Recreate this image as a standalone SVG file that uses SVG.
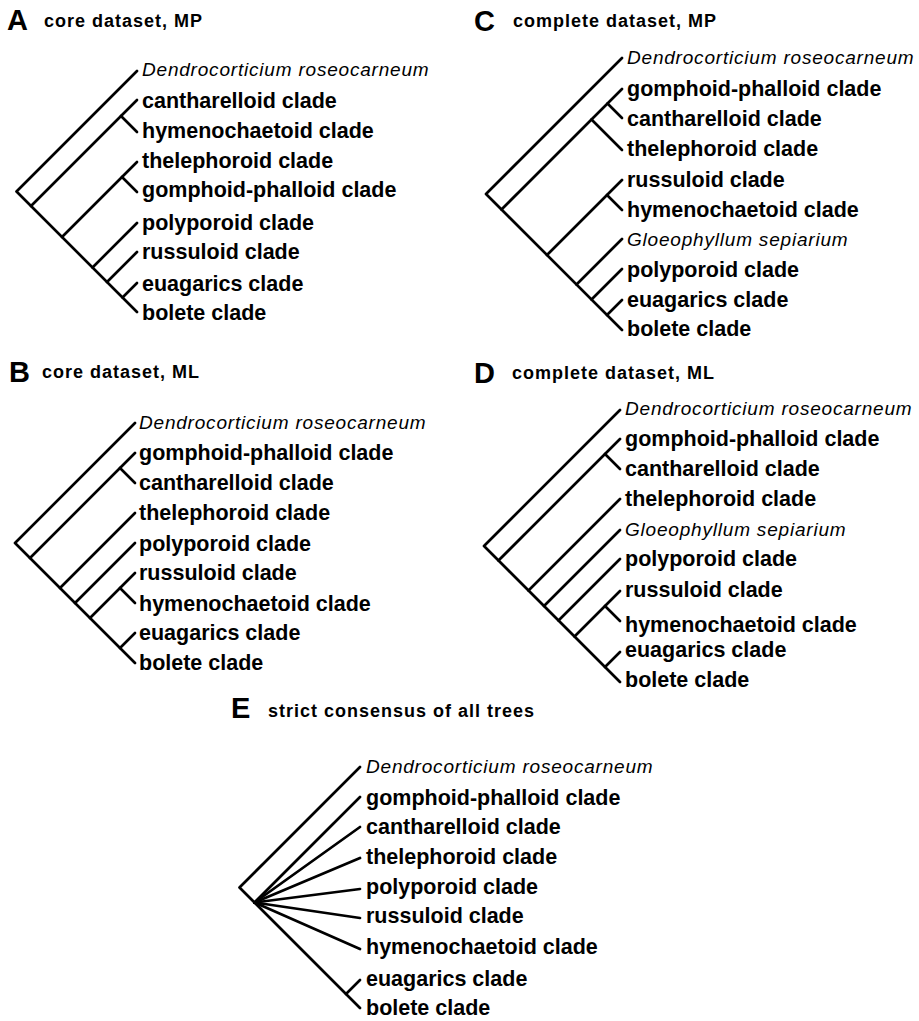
<svg xmlns="http://www.w3.org/2000/svg" width="919" height="1021" viewBox="0 0 919 1021">
<style>
text{font-family:"Liberation Sans",Arial,Helvetica,sans-serif;fill:#000}
.b{font-weight:bold;font-size:21.5px}
.i{font-style:italic;font-size:19px;letter-spacing:0.8px}
.h{font-weight:bold;font-size:18px;letter-spacing:1px}
.L{font-weight:bold;font-size:29px}
.e path{stroke:#000;stroke-width:2.7;fill:none;stroke-linecap:round;stroke-linejoin:round}
</style>
<rect width="919" height="1021" fill="#fff"/>

<!-- Panel A -->
<g id="panelA">
<g id="A-title"><text class="L" x="7" y="30">A</text><text class="h" x="44" y="27">core dataset, MP</text></g>
<g class="e" id="A-connectors">
<path d="M137,71 L16.5,191.5 L137,312"/>
<path d="M31,206 L137,100"/>
<path d="M121,116 L137,132"/>
<path d="M62,237 L137,162"/>
<path d="M122,177 L137,192"/>
<path d="M92.5,267.5 L137,223"/>
<path d="M107,282 L137,252"/>
<path d="M122.5,297.5 L137,283"/>
</g>
<g id="A-dendro"><text class="i" x="142" y="76">Dendrocorticium roseocarneum</text></g>
<g id="A-canth"><text class="b" x="142" y="108">cantharelloid clade</text></g>
<g id="A-hymeno"><text class="b" x="142" y="138">hymenochaetoid clade</text></g>
<g id="A-thele"><text class="b" x="142" y="168">thelephoroid clade</text></g>
<g id="A-gomph"><text class="b" x="142" y="197">gomphoid-phalloid clade</text></g>
<g id="A-poly"><text class="b" x="142" y="230">polyporoid clade</text></g>
<g id="A-russ"><text class="b" x="142" y="259">russuloid clade</text></g>
<g id="A-eua"><text class="b" x="142" y="291">euagarics clade</text></g>
<g id="A-bolete"><text class="b" x="142" y="320">bolete clade</text></g>
</g>

<!-- Panel B -->
<g id="panelB">
<g id="B-title"><text class="L" x="9" y="382">B</text><text class="h" x="42" y="378">core dataset, ML</text></g>
<g class="e" id="B-connectors">
<path d="M135,423 L15,543 L135,663"/>
<path d="M30,558 L135,453"/>
<path d="M120,468 L135,483"/>
<path d="M60,588 L135,513"/>
<path d="M75,603 L135,543"/>
<path d="M90,618 L135,573"/>
<path d="M120,588 L135,603"/>
<path d="M120,648 L135,633"/>
</g>
<g id="B-dendro"><text class="i" x="139" y="429">Dendrocorticium roseocarneum</text></g>
<g id="B-gomph"><text class="b" x="139" y="460">gomphoid-phalloid clade</text></g>
<g id="B-canth"><text class="b" x="139" y="490">cantharelloid clade</text></g>
<g id="B-thele"><text class="b" x="139" y="520">thelephoroid clade</text></g>
<g id="B-poly"><text class="b" x="139" y="550.5">polyporoid clade</text></g>
<g id="B-russ"><text class="b" x="139" y="580">russuloid clade</text></g>
<g id="B-hymeno"><text class="b" x="139" y="610.5">hymenochaetoid clade</text></g>
<g id="B-eua"><text class="b" x="139" y="640">euagarics clade</text></g>
<g id="B-bolete"><text class="b" x="139" y="670">bolete clade</text></g>
</g>

<!-- Panel C -->
<g id="panelC">
<g id="C-title"><text class="L" x="474" y="30.5">C</text><text class="h" x="513" y="27">complete dataset, MP</text></g>
<g class="e" id="C-connectors">
<path d="M622,58 L486,194 L622,330"/>
<path d="M501.5,209.5 L622,89"/>
<path d="M591.5,119.5 L622,150"/>
<path d="M607.5,103.5 L622,118"/>
<path d="M547,255 L622,180"/>
<path d="M607,195 L622,210"/>
<path d="M576.5,284.5 L622,239"/>
<path d="M591.5,299.5 L622,269"/>
<path d="M607,315 L622,300"/>
</g>
<g id="C-dendro"><text class="i" x="627" y="64">Dendrocorticium roseocarneum</text></g>
<g id="C-gomph"><text class="b" x="627" y="96">gomphoid-phalloid clade</text></g>
<g id="C-canth"><text class="b" x="627" y="126">cantharelloid clade</text></g>
<g id="C-thele"><text class="b" x="627" y="156">thelephoroid clade</text></g>
<g id="C-russ"><text class="b" x="627" y="186.5">russuloid clade</text></g>
<g id="C-hymeno"><text class="b" x="627" y="217">hymenochaetoid clade</text></g>
<g id="C-gloeo"><text class="i" x="627" y="246">Gloeophyllum sepiarium</text></g>
<g id="C-poly"><text class="b" x="627" y="277">polyporoid clade</text></g>
<g id="C-eua"><text class="b" x="627" y="306.5">euagarics clade</text></g>
<g id="C-bolete"><text class="b" x="627" y="336">bolete clade</text></g>
</g>

<!-- Panel D -->
<g id="panelD">
<g id="D-title"><text class="L" x="474" y="382.5">D</text><text class="h" x="512" y="379">complete dataset, ML</text></g>
<g class="e" id="D-connectors">
<path d="M620,410 L484,546 L620,682"/>
<path d="M498.5,560.5 L620,439"/>
<path d="M605,454 L620,469"/>
<path d="M528.5,590.5 L620,499"/>
<path d="M544,606 L620,530"/>
<path d="M558.5,620.5 L620,559"/>
<path d="M574.5,636.5 L620,591"/>
<path d="M605,606 L620,621"/>
<path d="M605,667 L620,652"/>
</g>
<g id="D-dendro"><text class="i" x="625" y="415">Dendrocorticium roseocarneum</text></g>
<g id="D-gomph"><text class="b" x="625" y="446">gomphoid-phalloid clade</text></g>
<g id="D-canth"><text class="b" x="625" y="476">cantharelloid clade</text></g>
<g id="D-thele"><text class="b" x="625" y="506">thelephoroid clade</text></g>
<g id="D-gloeo"><text class="i" x="625" y="536">Gloeophyllum sepiarium</text></g>
<g id="D-poly"><text class="b" x="625" y="566">polyporoid clade</text></g>
<g id="D-russ"><text class="b" x="625" y="597">russuloid clade</text></g>
<g id="D-hymeno"><text class="b" x="625" y="631.5">hymenochaetoid clade</text></g>
<g id="D-eua"><text class="b" x="625" y="657">euagarics clade</text></g>
<g id="D-bolete"><text class="b" x="625" y="686.5">bolete clade</text></g>
</g>

<!-- Panel E -->
<g id="panelE">
<g id="E-title"><text class="L" x="231" y="717.5">E</text><text class="h" x="268" y="717">strict consensus of all trees</text></g>
<g class="e" id="E-connectors">
<path d="M360,767 L239.5,887.5 L360,1008"/>
<path d="M254.5,902.5 L360,797"/>
<path d="M254.5,902.5 L360,827"/>
<path d="M254.5,902.5 L360,858"/>
<path d="M254.5,902.5 L360,889"/>
<path d="M254.5,902.5 L360,918"/>
<path d="M254.5,902.5 L360,949"/>
<path d="M346,994 L360,980"/>
</g>
<g id="E-dendro"><text class="i" x="366" y="773">Dendrocorticium roseocarneum</text></g>
<g id="E-gomph"><text class="b" x="366" y="805">gomphoid-phalloid clade</text></g>
<g id="E-canth"><text class="b" x="366" y="834">cantharelloid clade</text></g>
<g id="E-thele"><text class="b" x="366" y="864">thelephoroid clade</text></g>
<g id="E-poly"><text class="b" x="366" y="893.5">polyporoid clade</text></g>
<g id="E-russ"><text class="b" x="366" y="923">russuloid clade</text></g>
<g id="E-hymeno"><text class="b" x="366" y="954">hymenochaetoid clade</text></g>
<g id="E-eua"><text class="b" x="366" y="986">euagarics clade</text></g>
<g id="E-bolete"><text class="b" x="366" y="1015">bolete clade</text></g>
</g>
</svg>
